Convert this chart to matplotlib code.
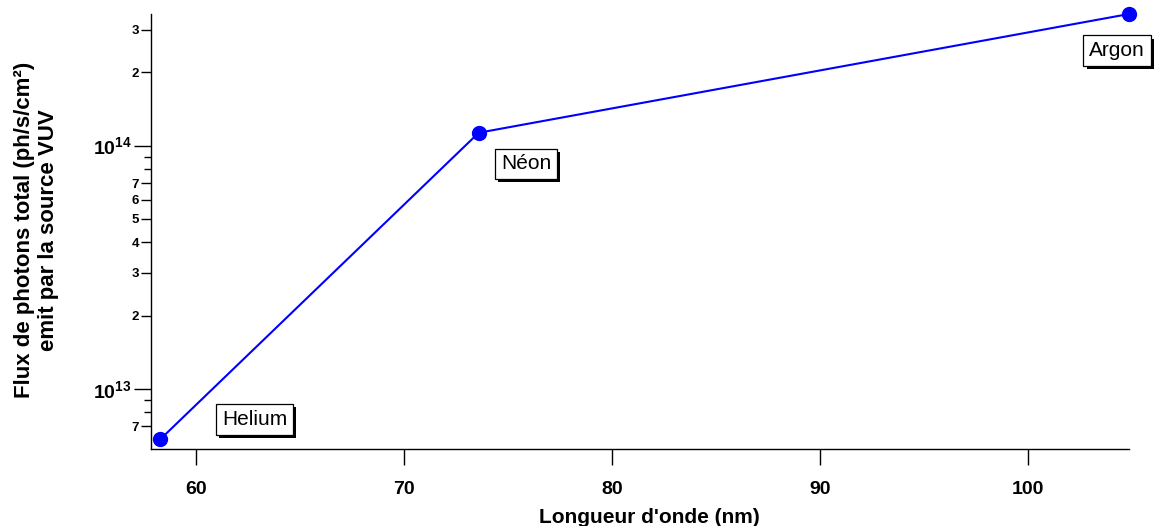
import matplotlib
matplotlib.use("Agg")
import math
import matplotlib.pyplot as plt
import matplotlib.patheffects as pe
from matplotlib.ticker import FixedLocator, FuncFormatter, NullLocator, NullFormatter

# ---- data ----
gases = ["Helium", "Néon", "Argon"]
wavelength_nm = [58.3, 73.6, 104.85]
flux = [6.2e12, 1.13e14, 3.48e14]
x_ticks = [60, 70, 80, 90, 100]
y_major = [1e13, 1e14]
y_minor_labelled = [7e12, 2e13, 3e13, 4e13, 5e13, 6e13, 7e13, 2e14, 3e14]
y_minor_unlabelled = [8e12, 9e12, 8e13, 9e13]
label_offsets = [(68, 14), (34, -22.5), (-8.5, -26.5)]  # points

plt.rcParams['font.family'] = ['Liberation Sans', 'DejaVu Sans']
plt.rcParams['mathtext.fontset'] = 'custom'
plt.rcParams['mathtext.rm'] = 'Liberation Sans:bold'
plt.rcParams['mathtext.it'] = 'Liberation Sans:bold'
plt.rcParams['mathtext.bf'] = 'Liberation Sans:bold'

fig = plt.figure(figsize=(11.59, 5.26), dpi=100)
ax = fig.add_axes([151/1159, (526-449)/526, 978/1159, 435/526])

ax.plot(wavelength_nm, flux, color='#0000FF', lw=1.5, marker='o',
        markersize=10, clip_on=False, zorder=3)
ax.set_yscale('log')
ax.set_xlim(57.85, 104.85)
ax.set_ylim(5.65e12, 3.48e14)

for s in ['top', 'right']:
    ax.spines[s].set_visible(False)
for s in ['left', 'bottom']:
    ax.spines[s].set_linewidth(1.0)

ax.xaxis.set_major_locator(FixedLocator(x_ticks))
ax.xaxis.set_minor_locator(NullLocator())
ax.set_xticklabels([str(v) for v in x_ticks])
ax.tick_params(axis='x', which='major', direction='out', length=11.5, width=1.0,
               pad=11.5, labelsize=14)
for lab in ax.get_xticklabels():
    lab.set_fontweight('bold')

ax.yaxis.set_major_locator(FixedLocator(y_major))
ax.yaxis.set_minor_locator(FixedLocator(y_minor_labelled))

def fmt_major(v, pos):
    e = int(round(math.log10(v)))
    return r'$10^{%d}$' % e

def fmt_minor(v, pos):
    e = math.floor(math.log10(v) + 1e-9)
    return '%d' % round(v / 10**e)

ax.yaxis.set_major_formatter(FuncFormatter(fmt_major))
ax.yaxis.set_minor_formatter(FuncFormatter(fmt_minor))
ax.tick_params(axis='y', which='major', direction='out', length=12, width=1.0,
               pad=2, labelsize=14)
ax.tick_params(axis='y', which='minor', direction='out', length=7, width=1.0,
               pad=1.5, labelsize=9.5)
for lab in ax.get_yticklabels(minor=True):
    lab.set_fontweight('bold')

# shorter unlabelled minor ticks
sec = ax.secondary_yaxis('left')
sec.set_yscale('log')
sec.yaxis.set_major_locator(FixedLocator(y_minor_unlabelled))
sec.yaxis.set_minor_locator(NullLocator())
sec.yaxis.set_major_formatter(NullFormatter())
sec.tick_params(axis='y', which='major', direction='out', length=5, width=1.0)
sec.spines['left'].set_visible(False)

ax.set_xlabel("Longueur d'onde (nm)", fontsize=15, fontweight='bold')
ax.xaxis.set_label_coords(0.51, -0.136)
ax.set_ylabel("Flux de photons total (ph/s/cm²)\nemit par la source VUV",
              fontsize=16, fontweight='bold', linespacing=1.2)
ax.yaxis.set_label_coords(-0.094, 0.503)

for g, x, y, off in zip(gases, wavelength_nm, flux, label_offsets):
    t = ax.annotate(g, xy=(x, y), xytext=off, textcoords='offset points',
                    ha='center', va='center', fontsize=15,
                    bbox=dict(boxstyle='square,pad=0.28', fc='white', ec='black', lw=0.9),
                    zorder=4, annotation_clip=False)
    t.get_bbox_patch().set_path_effects([
        pe.SimplePatchShadow(offset=(2.2, -2.2), shadow_rgbFace='black', alpha=1.0),
        pe.Normal()])

fig.savefig('out.png', dpi=100)
